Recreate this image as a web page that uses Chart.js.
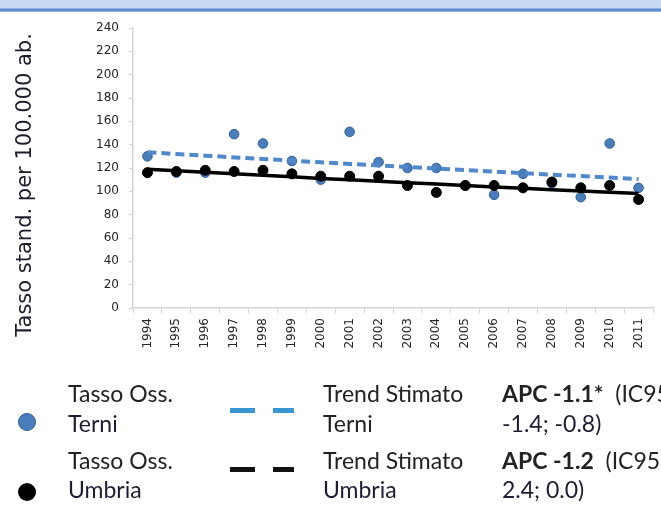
<!DOCTYPE html>
<html>
<head>
<meta charset="utf-8">
<script src="https://cdn.jsdelivr.net/npm/chart.js@4.4.1/dist/chart.umd.min.js"></script>
<style>
  html, body { margin: 0; padding: 0; background: #fff; }
  body { width: 661px; height: 505px; overflow: hidden; position: relative; }
  #band { position: absolute; left: 0; top: 0; width: 661px; height: 8px; background: #c9dbf2; }
  #rule { position: absolute; left: 0; top: 8px; width: 661px; height: 4px;
          background: linear-gradient(#a9c3e7, #5d8dd2 35%, #5d8dd2 70%, #b9cfec); }
  #plot { position: absolute; left: 0; top: 0; }
  .lg { position: absolute; font-family: Lato, sans-serif; font-size: 23px; line-height: 27.6px;
        color: #222; white-space: nowrap; }
  .lg b { font-weight: 700; }
  .sub { color: #1f1c34; }
  .dot { position: absolute; width: 18px; height: 18px; border-radius: 50%; box-sizing: border-box; }
  .dash { position: absolute; height: 5px; }
</style>
</head>
<body>
<div id="band"></div>
<div id="rule"></div>
<canvas id="plot" width="661" height="505"></canvas>

<!-- legend -->
<div class="dot" style="left:18px;top:413px;background:#4a7ebb;border:1.5px solid #2c5a93;"></div>
<div class="lg" style="left:68px;top:380px;">Tasso Oss.</div>
<div class="lg sub" style="left:68px;top:410px;">Terni</div>
<div class="dash" style="left:230px;top:408px;width:25px;background:#3a96d0;"></div>
<div class="dash" style="left:273px;top:408px;width:21px;background:#3a96d0;"></div>
<div class="lg" style="left:323px;top:380px;">Trend Stimato</div>
<div class="lg" style="left:323px;top:410px;">Terni</div>
<div class="lg" style="left:502px;top:380px;"><b>APC -1.1*</b>&nbsp; (IC95%</div>
<div class="lg sub" style="left:502px;top:410px;">-1.4; -0.8)</div>

<div class="dot" style="left:18px;top:483px;background:#000;"></div>
<div class="lg" style="left:68px;top:447px;">Tasso Oss.</div>
<div class="lg sub" style="left:68px;top:476px;">Umbria</div>
<div class="dash" style="left:230px;top:467px;width:25px;background:#111;"></div>
<div class="dash" style="left:273px;top:467px;width:21px;background:#111;"></div>
<div class="lg" style="left:323px;top:447px;">Trend Stimato</div>
<div class="lg sub" style="left:323px;top:476px;">Umbria</div>
<div class="lg" style="left:502px;top:447px;"><b>APC -1.2</b>&nbsp; (IC95%</div>
<div class="lg sub" style="left:502px;top:476px;">2.4; 0.0)</div>

<script>
// Years on the x axis
const years = ['1994','1995','1996','1997','1998','1999','2000','2001','2002',
               '2003','2004','2005','2006','2007','2008','2009','2010','2011'];

// Observed standardised rates (per 100,000)
const terniObserved  = [130, 116, 116, 149, 141, 126, 110, 151, 125, 120, 120, 105, 97, 115, 107, 95, 141, 103];
const umbriaObserved = [116, 117, 118, 117, 118, 115, 113, 113, 113, 105, 99, 105, 105, 103, 108, 103, 105, 93];

// Estimated trends
const terniTrend  = [133.5, 132.0, 130.6, 129.1, 127.7, 126.3, 124.9, 123.5, 122.2,
                     120.8, 119.5, 118.2, 116.9, 115.6, 114.3, 113.1, 111.8, 110.6];
const umbriaTrend = [119.0, 117.7, 116.3, 115.0, 113.7, 112.4, 111.1, 109.9, 108.6,
                     107.4, 106.2, 105.0, 103.8, 102.6, 101.4, 100.3, 99.2, 98.1];

// Y axis range and step
const yMin = 0, yMax = 240, yStep = 20;
const yTitle = 'Tasso stand. per 100.000 ab.';

// Rotated y-axis title, placed along the left edge
const yTitlePlugin = {
  id: 'yTitle',
  afterDraw(chart) {
    const ctx = chart.ctx;
    ctx.save();
    ctx.translate(31, 185);
    ctx.rotate(-Math.PI / 2);
    ctx.font = '21px "DejaVu Sans"';
    ctx.fillStyle = '#1c1c2c';
    ctx.textAlign = 'center';
    ctx.textBaseline = 'alphabetic';
    ctx.fillText(yTitle, 0, 0);
    ctx.restore();
  }
};

const axisGrey = '#d4d4d4';
const tickFont = { family: 'DejaVu Sans', size: 12 };

new Chart(document.getElementById('plot'), {
  type: 'line',
  data: {
    labels: years,
    datasets: [
      {
        label: 'Tasso Oss. Umbria',
        data: umbriaObserved,
        showLine: false,
        pointRadius: 5,
        pointBackgroundColor: '#000',
        pointBorderColor: '#000',
        order: 0
      },
      {
        label: 'Trend Stimato Umbria',
        data: umbriaTrend,
        borderColor: '#000',
        borderWidth: 3.5,
        pointRadius: 0,
        tension: 0,
        order: 1
      },
      {
        label: 'Trend Stimato Terni',
        data: terniTrend,
        borderColor: '#5088cc',
        borderWidth: 4,
        borderDash: [9, 5],
        pointRadius: 0,
        tension: 0,
        order: 2
      },
      {
        label: 'Tasso Oss. Terni',
        data: terniObserved,
        showLine: false,
        pointRadius: 4.8,
        pointBackgroundColor: '#4a7ebb',
        pointBorderColor: '#2f609e',
        pointBorderWidth: 1,
        order: 3
      }
    ]
  },
  options: {
    responsive: false,
    animation: false,
    devicePixelRatio: 1,
    layout: { padding: { left: 0, right: 8, top: 28, bottom: 137 } },
    plugins: { legend: { display: false }, tooltip: { enabled: false } },
    scales: {
      x: {
        type: 'category',
        offset: true,
        grid: { offset: true, drawOnChartArea: false, tickLength: 5, color: axisGrey },
        border: { color: axisGrey, width: 1.5 },
        ticks: {
          autoSkip: false, minRotation: 90, maxRotation: 90, padding: 5,
          font: tickFont, color: '#262626'
        },
        afterFit(scale) { scale.height = 60; }
      },
      y: {
        min: yMin, max: yMax,
        grid: { drawOnChartArea: false, tickLength: 4, color: axisGrey },
        border: { color: axisGrey, width: 1.5 },
        ticks: { stepSize: yStep, padding: 10, font: tickFont, color: '#262626' },
        afterFit(scale) { scale.width = 133; }
      }
    }
  },
  plugins: [yTitlePlugin]
});
</script>
</body>
</html>
